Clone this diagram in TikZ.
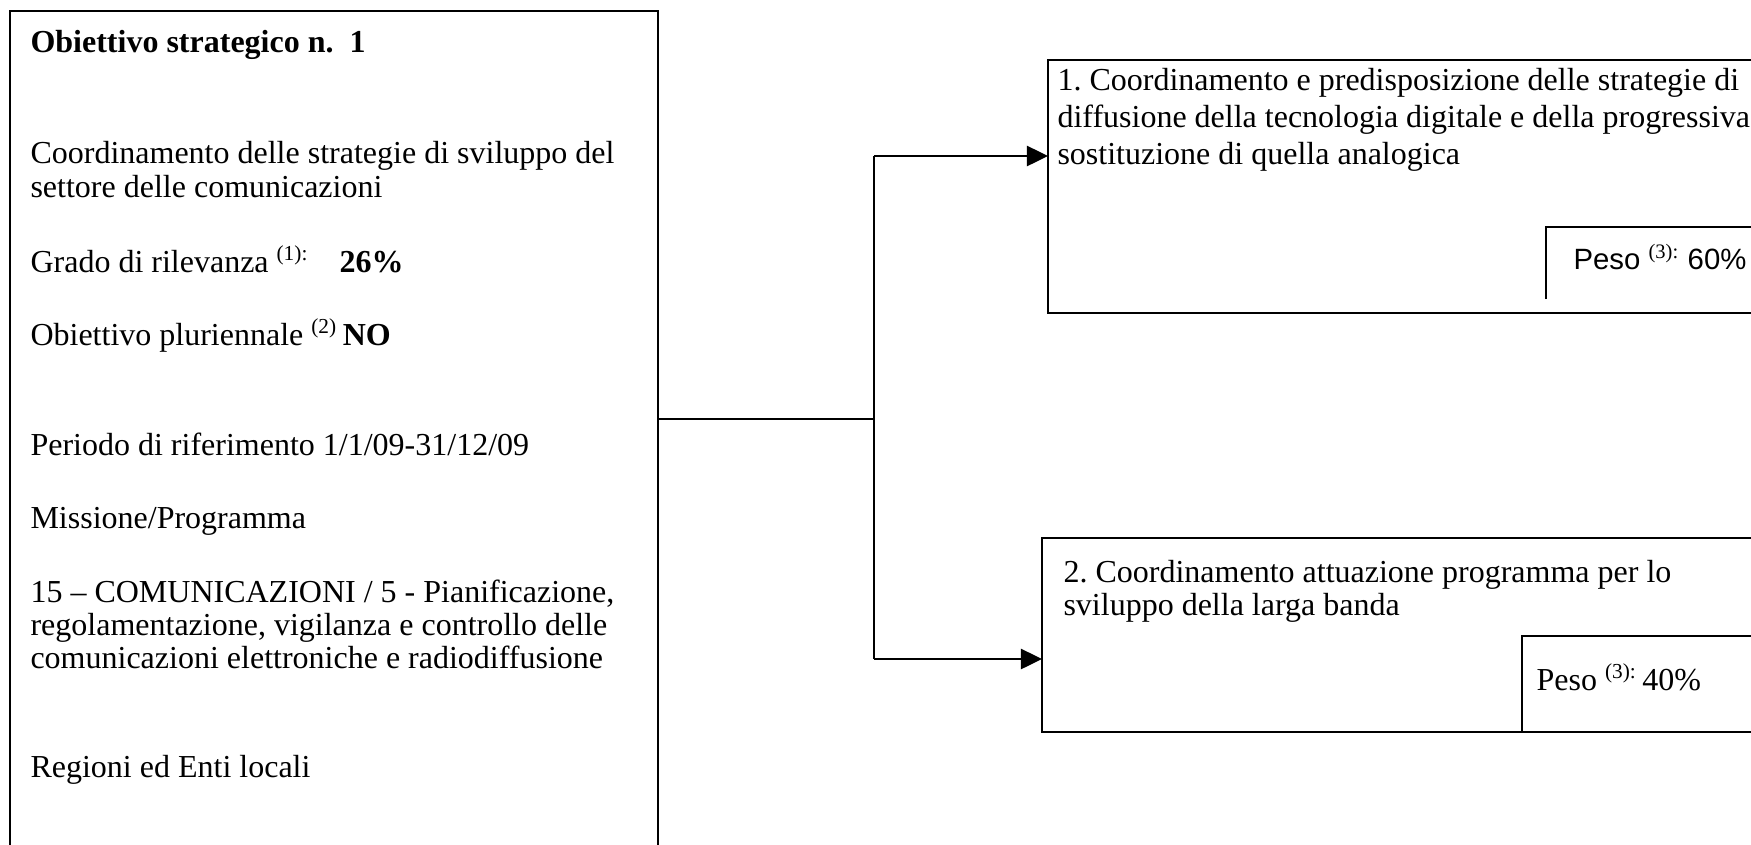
\documentclass[tikz,border=0pt]{standalone}
\usepackage{fontspec}
\setmainfont{Liberation Serif}
\newfontfamily\arialfont{Liberation Sans}
\usetikzlibrary{arrows.meta}
\frenchspacing

\tikzset{
    frame/.style={draw, line width=0.65pt, inner sep=0pt, outer sep=0pt, anchor=north west},
    txt/.style={anchor=base west, inner sep=0pt, font=\fontsize{12}{14}\selectfont},
    conn/.style={line width=0.65pt},
    arr/.style={conn, -{Triangle[length=7.9pt, width=7.6pt]}},
}

\begin{document}
\begin{tikzpicture}[x=0.375pt, y=-0.375pt]
    \useasboundingbox (0,0) rectangle (1751,844);

    % boxes
    \node[frame, minimum width=243pt, minimum height=318pt] (obj) at (10,11) {};
    \node[frame, line width=1pt, minimum width=271pt, minimum height=94.9pt] (act1) at (1048,60) {};
    \node[frame, minimum width=273pt, minimum height=72.75pt] (act2) at (1042,538) {};

    % strategic objective
    \node[txt] (title) at (30,52) {\textbf{Obiettivo strategico n.\ \ 1}};
    \node[txt] (desc1) at (30,163) {Coordinamento delle strategie di sviluppo del};
    \node[txt] (desc2) at (30,197) {settore delle comunicazioni};
    \node[txt] (grado) at (30,272) {Grado di rilevanza \textsuperscript{(1):}};
    \node[txt] (gradoval) at (339,272) {\textbf{26\%}};
    \node[txt] (pluri) at (30,345) {Obiettivo pluriennale \textsuperscript{(2)}\,\textbf{NO}};
    \node[txt] (periodo) at (30,455) {Periodo di riferimento 1/1/09-31/12/09};
    \node[txt] (missione) at (30,528) {Missione/Programma};
    \node[txt] (prog1) at (30,602) {15 -- COMUNICAZIONI / 5 - Pianificazione,};
    \node[txt] (prog2) at (30,635) {regolamentazione, vigilanza e controllo delle};
    \node[txt] (prog3) at (30,668) {comunicazioni elettroniche e radiodiffusione};
    \node[txt] (enti) at (30,777) {Regioni ed Enti locali};

    % operational objectives
    \node[txt] (op1a) at (1057,90) {1. Coordinamento e predisposizione delle strategie di};
    \node[txt] (op1b) at (1057,127) {diffusione della tecnologia digitale e della progressiva};
    \node[txt] (op1c) at (1057,164) {sostituzione di quella analogica};
    \node[txt] (op2a) at (1063,582) {2. Coordinamento attuazione programma per lo};
    \node[txt] (op2b) at (1063,615) {sviluppo della larga banda};

    % weights
    \coordinate (w1) at (1546,227);
    \coordinate (w1b) at (1546,299);
    \draw[conn] (w1b) -- (w1) -- (w1 -| act1.east);
    \node[txt, font=\arialfont\fontsize{11}{13}\selectfont] (peso1) at (1573,269)
        {Peso {\rmfamily\textsuperscript{(3):}} 60\%};
    \coordinate (w2) at (1522,636);
    \draw[conn] (w2 |- act2.south) -- (w2) -- (w2 -| act2.east);
    \node[txt] (peso2) at (1536,690) {Peso \textsuperscript{(3):}\,40\%};

    % connectors
    \coordinate (hub) at (874,419);
    \coordinate (up) at (874,156);
    \coordinate (down) at (874,659);
    \draw[conn] (obj.east |- hub) -- (hub);
    \draw[conn] (up) -- (down);
    \draw[arr] (up) -- (up -| act1.west);
    \draw[arr] (down) -- (down -| act2.west);
\end{tikzpicture}
\end{document}
